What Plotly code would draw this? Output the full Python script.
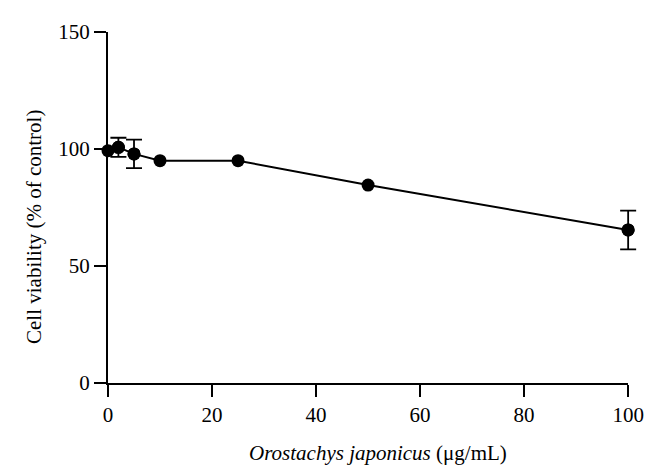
import plotly.graph_objects as go

concentration = [0, 2, 5, 10, 25, 50, 100]
viability = [99.3, 100.7, 97.9, 95.0, 95.0, 84.6, 65.4]
viability_err = [None, 4.1, 6.1, None, None, None, 8.3]

x_ticks = [0, 20, 40, 60, 80, 100]
y_ticks = [0, 50, 100, 150]

FONT = "Liberation Serif"

# pixel layout
W, H = 658, 465
ML, MR, MT, MB = 100, 20, 22, 90
plot_w = W - ML - MR
plot_h = H - MT - MB
axis_px = 528                      # pixel length of the 0..100 x axis
dom_end = axis_px / plot_w
x_max = max(x_ticks)

# points that carry a visible error bar
eb = [(c, v, e) for c, v, e in zip(concentration, viability, viability_err) if e is not None]
eb_x = [p[0] for p in eb]
eb_y = [p[1] for p in eb]
eb_e = [p[2] for p in eb]

fig = go.Figure()
# connecting line + markers
fig.add_trace(go.Scatter(
    x=concentration, y=viability,
    mode="lines+markers",
    line=dict(color="black", width=2),
    marker=dict(color="black", size=13),
    cliponaxis=False, showlegend=False,
))
# error bars on an invisible twin axis with the same scale but a wider clip area
fig.add_trace(go.Scatter(
    x=eb_x, y=eb_y,
    mode="markers",
    marker=dict(color="black", size=13),
    error_y=dict(type="data", array=eb_e, visible=True,
                 color="black", thickness=1.8, width=8),
    xaxis="x2", yaxis="y",
    cliponaxis=False, showlegend=False,
))

fig.update_layout(
    width=W, height=H,
    margin=dict(l=ML, r=MR, t=MT, b=MB),
    paper_bgcolor="white", plot_bgcolor="rgba(0,0,0,0)",
    font=dict(family=FONT, size=21, color="black"),
    xaxis=dict(
        domain=[0, dom_end], anchor="y",
        range=[0, x_max], tickvals=x_ticks, ticks="outside", ticklen=12,
        tickwidth=2, tickcolor="black", showline=True, linecolor="black",
        linewidth=2, showgrid=False, zeroline=False,
        tickfont=dict(family=FONT, size=21),
    ),
    xaxis2=dict(
        domain=[0, 1], anchor="y", visible=False,
        range=[0, x_max / dom_end],
    ),
    yaxis=dict(
        anchor="x",
        range=[0, 150], tickvals=y_ticks, ticks="outside", ticklen=12,
        tickwidth=2, tickcolor="black", showline=True, linecolor="black",
        linewidth=2, showgrid=False, zeroline=False,
        tickfont=dict(family=FONT, size=21),
    ),
    annotations=[
        dict(text="Cell viability (% of control)", textangle=-90,
             xref="paper", yref="paper",
             x=(25 - ML) / plot_w, y=(H - MB - 218) / plot_h,
             xanchor="center", yanchor="middle", showarrow=False,
             font=dict(family=FONT, size=21)),
        dict(text="<i>Orostachys japonicus</i> (μg/mL)",
             xref="paper", yref="paper",
             x=(374 - ML) / plot_w, y=(H - MB - 445) / plot_h,
             xanchor="center", yanchor="middle", showarrow=False,
             font=dict(family=FONT, size=21)),
    ],
)

fig.write_html("out.html")
